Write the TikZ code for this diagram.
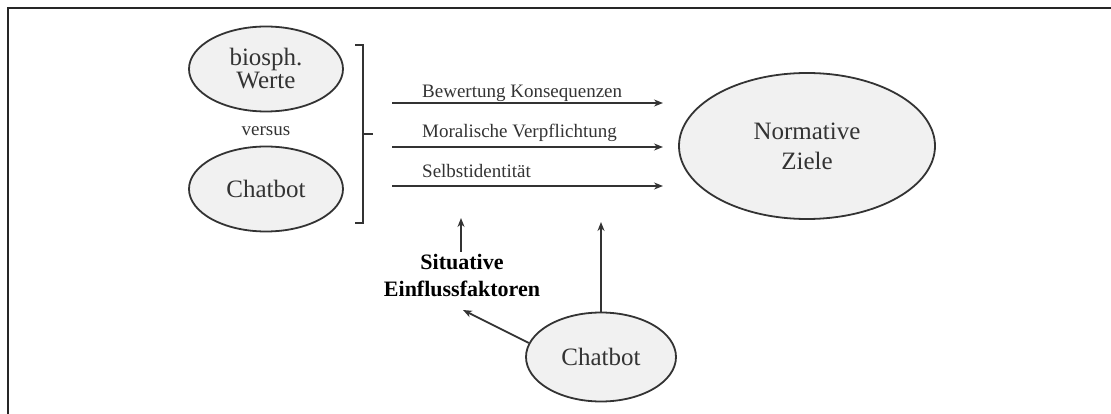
\documentclass[tikz,border=0pt]{standalone}
\usepackage{fontspec}
\setmainfont{Liberation Serif}
\usetikzlibrary{shapes.geometric,arrows.meta}
\definecolor{ink}{HTML}{333333}
\definecolor{fillg}{HTML}{F1F1F1}
\tikzset{
  oval/.style={ellipse, draw=ink, line width=1.8pt, fill=fillg, inner sep=0pt, align=center, text=ink,
    font=\fontsize{25}{27}\selectfont},
  lbl/.style={text=ink, font=\fontsize{19}{21}\selectfont, inner sep=0pt},
  arr/.style={draw=ink, line width=1.8pt, -{Stealth[length=9pt,width=7pt]}},
}
\begin{document}
\begin{tikzpicture}[x=1pt,y=-1pt]
\useasboundingbox (0,0) rectangle (1111,414);
\draw[line width=2.5pt, draw=black!85] (8,414) -- (8,8) -- (1111,8);
% left ellipses
\node[oval, minimum width=154pt, minimum height=85pt] (bio) at (266,69) {biosph.\\[-4pt]Werte};
\node[lbl] (vs) at (266,131) {versus};
\node[oval, minimum width=154pt, minimum height=85pt] (cb1) at (266,189) {Chatbot};
% bracket
\coordinate (bt) at (363,45);
\coordinate (bb) at (363,223);
\coordinate (bm) at (363,134);
\draw[draw=ink, line width=1.8pt] (355,45) -- (bt) -- (bb) -- (355,223);
\draw[draw=ink, line width=1.8pt] (bm) -- (373,134);
% goal
\node[oval, minimum width=256pt, minimum height=146pt, font=\fontsize{25}{30}\selectfont] (goal) at (807,146) {Normative\\Ziele};
% arrows
\coordinate (a1s) at (392,103); \coordinate (a1e) at (663,103);
\coordinate (a2s) at (392,147); \coordinate (a2e) at (663,147);
\coordinate (a3s) at (392,186); \coordinate (a3e) at (663,186);
\draw[arr] (a1s) -- (a1e);
\draw[arr] (a2s) -- (a2e);
\draw[arr] (a3s) -- (a3e);
\node[lbl, anchor=base west] (t1) at (422,98) {Bewertung Konsequenzen};
\node[lbl, anchor=base west] (t2) at (422,138) {Moralische Verpflichtung};
\node[lbl, anchor=base west] (t3) at (422,178) {Selbstidentität};
% situative
\node[text=black, font=\bfseries\fontsize{22}{27}\selectfont, align=center, inner sep=0pt] (sit) at (462,276) {Situative\\Einflussfaktoren};
\coordinate (sup) at (461,218);
\draw[arr, line width=1.5pt] (sit.north -| sup) ++(0,-3) -- (sup);
% bottom chatbot
\node[oval, minimum width=150pt, minimum height=89pt] (cb2) at (601,357) {Chatbot};
\coordinate (lup) at (601,222);
\coordinate (dg) at (463,310);
\draw[arr] (cb2.north) -- (lup);
\draw[arr] (cb2.169) -- (dg);
\end{tikzpicture}
\end{document}
